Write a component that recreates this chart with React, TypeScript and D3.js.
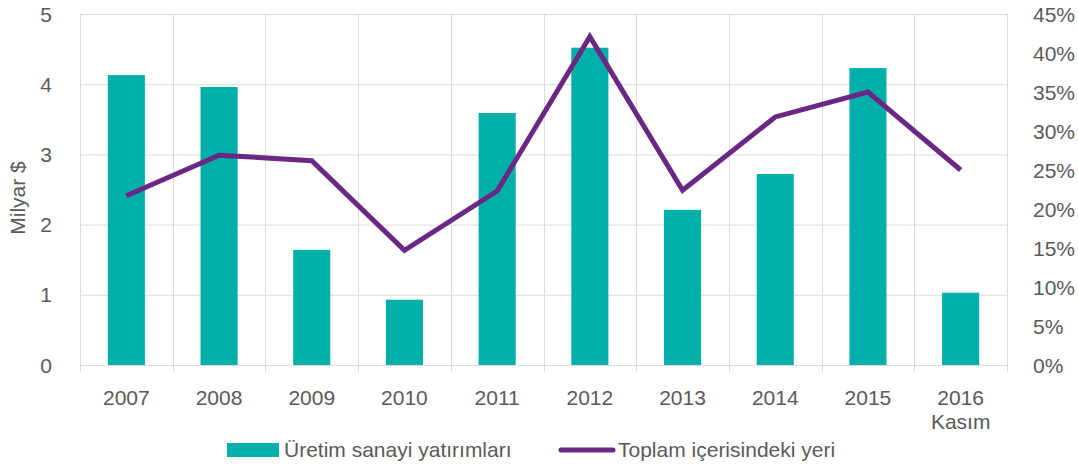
import React, { useEffect, useRef } from 'react';
import * as d3 from 'd3';

// chart data
const years = ['2007', '2008', '2009', '2010', '2011', '2012', '2013', '2014', '2015', '2016'];
const investments = [4.13, 3.96, 1.64, 0.93, 3.59, 4.52, 2.21, 2.72, 4.23, 1.03];
const shareOfTotal = [21.7, 26.9, 26.2, 14.7, 22.3, 42.1, 22.4, 31.8, 35.0, 25.0];
const leftTicks = [0, 1, 2, 3, 4, 5];
const rightTicks = [0, 5, 10, 15, 20, 25, 30, 35, 40, 45];

const W = 1078;
const H = 468;
const M = { left: 80, right: 71, top: 14, bottom: 103 };
const TEAL = '#00b0a8';
const PURPLE = '#6b2784';
const TEXT = '#5a5a5a';
const GRID = '#dcdcdc';
const FONT = '"Liberation Sans", Arial, sans-serif';
const FS = '21px';

export default function App() {
  const svgRef = useRef<SVGSVGElement | null>(null);

  useEffect(() => {
    const svg = d3.select(svgRef.current);
    svg.selectAll('*').remove();

    const x0 = M.left;
    const x1 = W - M.right;
    const y0 = H - M.bottom;
    const y1 = M.top;

    const x = d3.scaleBand<string>().domain(years).range([x0, x1]).paddingInner(0).paddingOuter(0);
    const yL = d3.scaleLinear().domain([0, 5]).range([y0, y1]);
    const yR = d3.scaleLinear().domain([0, 45]).range([y0, y1]);

    const g = svg.append('g');

    const label = (sel: any) =>
      sel.attr('fill', TEXT).style('font-family', FONT).style('font-size', FS);

    // horizontal grid
    g.selectAll('.hgrid')
      .data(leftTicks)
      .enter()
      .append('line')
      .attr('x1', x0)
      .attr('x2', x1)
      .attr('y1', d => yL(d) + 0.5)
      .attr('y2', d => yL(d) + 0.5)
      .attr('stroke', GRID)
      .attr('stroke-width', 1);

    // vertical grid at category boundaries, with ticks below baseline
    const bounds = years.map(d => x(d) as number).concat([x1]);
    g.selectAll('.vgrid')
      .data(bounds)
      .enter()
      .append('line')
      .attr('x1', d => Math.round(d) + 0.5)
      .attr('x2', d => Math.round(d) + 0.5)
      .attr('y1', y1)
      .attr('y2', y0 + 7)
      .attr('stroke', GRID)
      .attr('stroke-width', 1);

    // bars
    const bw = x.bandwidth() * 0.4;
    g.selectAll('.bar')
      .data(investments)
      .enter()
      .append('rect')
      .attr('x', (_d, i) => (x(years[i]) as number) + x.bandwidth() / 2 - bw / 2)
      .attr('y', d => yL(d))
      .attr('width', bw)
      .attr('height', d => y0 - yL(d))
      .attr('fill', TEAL);

    // line
    const line = d3.line<number>()
      .x((_d, i) => (x(years[i]) as number) + x.bandwidth() / 2)
      .y(d => yR(d));
    g.append('path')
      .datum(shareOfTotal)
      .attr('d', line)
      .attr('fill', 'none')
      .attr('stroke', PURPLE)
      .attr('stroke-width', 5)
      .attr('stroke-linejoin', 'miter')
      .attr('stroke-linecap', 'butt');

    // left axis labels
    g.selectAll('.ltick')
      .data(leftTicks)
      .enter()
      .append('text')
      .attr('x', 52)
      .attr('y', d => yL(d))
      .attr('dy', '0.36em')
      .attr('text-anchor', 'end')
      .call(label)
      .text(d => String(d));

    // right axis labels
    g.selectAll('.rtick')
      .data(rightTicks)
      .enter()
      .append('text')
      .attr('x', 1033)
      .attr('y', d => yR(d))
      .attr('dy', '0.36em')
      .attr('text-anchor', 'start')
      .call(label)
      .text(d => `${d}%`);

    // x labels
    g.selectAll('.xtick')
      .data(years)
      .enter()
      .append('text')
      .attr('x', d => (x(d) as number) + x.bandwidth() / 2)
      .attr('y', 405)
      .attr('text-anchor', 'middle')
      .call(label)
      .text(d => d);
    g.append('text')
      .attr('x', (x('2016') as number) + x.bandwidth() / 2)
      .attr('y', 429)
      .attr('text-anchor', 'middle')
      .call(label)
      .text('Kasım');

    // y title
    g.append('text')
      .attr('transform', 'translate(25,198) rotate(-90)')
      .attr('text-anchor', 'middle')
      .call(label)
      .text('Milyar $');

    // legend
    g.append('rect')
      .attr('x', 227)
      .attr('y', 443)
      .attr('width', 52)
      .attr('height', 14)
      .attr('fill', TEAL);
    g.append('text')
      .attr('x', 284)
      .attr('y', 457)
      .call(label)
      .text('Üretim sanayi yatırımları');
    g.append('line')
      .attr('x1', 561)
      .attr('x2', 613)
      .attr('y1', 450)
      .attr('y2', 450)
      .attr('stroke', PURPLE)
      .attr('stroke-width', 5)
      .attr('stroke-linecap', 'round');
    g.append('text')
      .attr('x', 618)
      .attr('y', 457)
      .call(label)
      .text('Toplam içerisindeki yeri');
  }, []);

  return (
    <svg
      ref={svgRef}
      width={W}
      height={H}
      style={{ display: 'block', position: 'absolute', left: 0, top: 0, background: '#fff' }}
    />
  );
}
